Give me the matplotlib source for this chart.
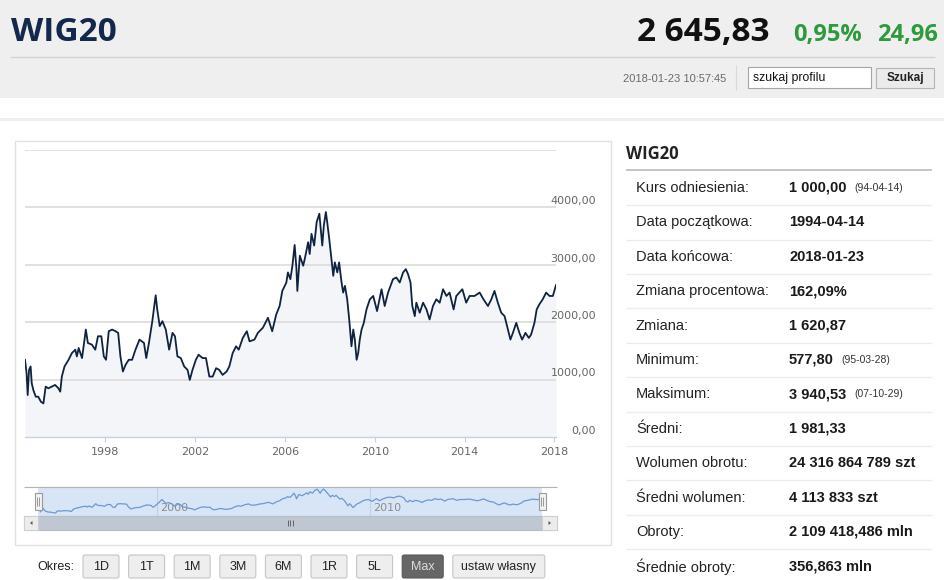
import matplotlib
matplotlib.use("Agg")
import matplotlib.pyplot as plt
from matplotlib.patches import Rectangle, FancyBboxPatch, Polygon

# WIG20 close (decimal years)
years = [
    1994.42, 1994.49, 1994.54, 1994.60, 1994.67, 1994.72, 1994.79, 1994.90, 1995.01, 1995.13,
    1995.24, 1995.34, 1995.46, 1995.61, 1995.76, 1995.91, 1995.99, 1996.06, 1996.18, 1996.36,
    1996.51, 1996.66, 1996.73, 1996.81, 1996.96, 1997.13, 1997.22, 1997.40, 1997.55, 1997.67,
    1997.82, 1997.93, 1998.03, 1998.15, 1998.30, 1998.45, 1998.57, 1998.67, 1998.78, 1998.90,
    1999.04, 1999.19, 1999.34, 1999.52, 1999.72, 1999.82, 1999.94, 2000.09, 2000.24, 2000.31,
    2000.42, 2000.54, 2000.69, 2000.84, 2000.99, 2001.10, 2001.21, 2001.36, 2001.51, 2001.66,
    2001.76, 2001.88, 2002.03, 2002.15, 2002.33, 2002.48, 2002.63, 2002.78, 2002.93, 2003.07,
    2003.22, 2003.40, 2003.52, 2003.67, 2003.82, 2003.94, 2004.12, 2004.30, 2004.42, 2004.64,
    2004.79, 2005.01, 2005.09, 2005.24, 2005.43, 2005.61, 2005.76, 2005.88, 2006.06, 2006.13,
    2006.24, 2006.33, 2006.43, 2006.51, 2006.55, 2006.66, 2006.81, 2006.88, 2007.03, 2007.10,
    2007.18, 2007.30,
    2007.41, 2007.53, 2007.59, 2007.66, 2007.73, 2007.82, 2007.88, 2007.97, 2008.07, 2008.15,
    2008.22, 2008.33, 2008.41, 2008.52, 2008.59, 2008.67, 2008.77, 2008.86, 2008.96, 2009.04,
    2009.11, 2009.19, 2009.26, 2009.33, 2009.41, 2009.51, 2009.63, 2009.78, 2009.93, 2010.10,
    2010.30, 2010.44, 2010.59, 2010.81, 2010.96, 2011.11, 2011.26, 2011.38, 2011.48, 2011.59,
    2011.67, 2011.78, 2011.85, 2012.00, 2012.15, 2012.30, 2012.44, 2012.59, 2012.74, 2012.89,
    2013.04, 2013.19, 2013.33, 2013.51, 2013.63, 2013.90, 2014.07, 2014.22, 2014.44, 2014.67,
    2014.84, 2015.04, 2015.19, 2015.33, 2015.48, 2015.63, 2015.78, 2015.93, 2016.04, 2016.15,
    2016.30, 2016.44, 2016.56, 2016.71, 2016.86, 2016.96, 2017.11, 2017.21, 2017.33, 2017.48,
    2017.63, 2017.78, 2017.93, 2018.07,
]
values = [
    1345, 1112, 731, 1170, 1229, 936, 819, 702, 702, 614,
    585, 878, 848, 878, 907, 848, 790, 1053, 1229, 1345,
    1463, 1521, 1404, 1550, 1375, 1872, 1638, 1609, 1521, 1755,
    1755, 1404, 1345, 1843, 1872, 1843, 1814, 1404, 1141, 1258,
    1345, 1345, 1521, 1697, 1638, 1375, 1638, 2018, 2469, 2223,
    1931, 2018, 1872, 1521, 1814, 1755, 1404, 1375, 1229, 1170,
    995, 1170, 1345, 1433, 1375, 1375, 1053, 1053, 1199, 1170,
    1082, 1141, 1229, 1463, 1580, 1521, 1726, 1843, 1667, 1697,
    1814, 1901, 1960, 2077, 1843, 2135, 2282, 2545, 2691, 2867,
    2750, 2984, 3346, 2925, 2545, 3159, 2984, 3101, 3393, 3188,
    3539, 3335,
    3744, 3890, 3627, 3335, 3686, 3920, 3744, 3452, 3101, 2808,
    3042, 2867, 3042, 2691, 2516, 2633, 2399, 2048, 1580, 1872,
    1697, 1345, 1463, 1697, 1872, 1989, 2223, 2399, 2457, 2194,
    2574, 2282, 2516, 2750, 2779, 2691, 2867, 2925, 2837, 2691,
    2282, 2106, 2340, 2165, 2340, 2223, 2048, 2282, 2399, 2340,
    2574, 2457, 2516, 2223, 2457, 2574, 2340, 2457, 2457, 2516,
    2399, 2282, 2399, 2545, 2340, 2165, 2106, 1872, 1697, 1814,
    1989, 1814, 1697, 1814, 1726, 1784, 1989, 2223, 2311, 2399,
    2516, 2457, 2457, 2645.83,
]

x_ticks = [1998, 2002, 2006, 2010, 2014, 2018]
x_tick_labels = ["1998", "2002", "2006", "2010", "2014", "2018"]
grid_levels = [1000, 2000, 3000, 4000, 5000]
y_labels = [0, 1000, 2000, 3000, 4000]
nav_years = [2000, 2010]

header_name = "WIG20"
last_price = "2 645,83"
change_pct = "0,95%"
change_abs = "24,96"
timestamp = "2018-01-23 10:57:45"

periods = ["1D", "1T", "1M", "3M", "6M", "1R", "5L", "Max", "ustaw własny"]

row_labels = ["Kurs odniesienia:", "Data początkowa:", "Data końcowa:", "Zmiana procentowa:",
              "Zmiana:", "Minimum:", "Maksimum:", "Średni:", "Wolumen obrotu:",
              "Średni wolumen:", "Obroty:", "Średnie obroty:"]
row_values = ["1 000,00", "1994-04-14", "2018-01-23", "162,09%", "1 620,87", "577,80",
              "3 940,53", "1 981,33", "24 316 864 789 szt", "4 113 833 szt",
              "2 109 418,486 mln", "356,863 mln"]
row_notes = ["(94-04-14)", "", "", "", "", "(95-03-28)", "(07-10-29)", "", "", "", "", ""]

OPEN = ["Open Sans", "DejaVu Sans"]
ARIAL = ["Liberation Sans", "DejaVu Sans"]

W, H = 945, 580
fig = plt.figure(figsize=(W / 100, H / 100), dpi=100, facecolor="white")


def px_axes(x0, y0, x1, y1):
    return fig.add_axes([x0 / W, 1 - y1 / H, (x1 - x0) / W, (y1 - y0) / H])


def overlay():
    a = fig.add_axes([0, 0, 1, 1])
    a.set_xlim(0, W)
    a.set_ylim(H, 0)
    a.axis("off")
    a.patch.set_alpha(0)
    return a


def rect(a, x0, y0, x1, y1, fc, ec="none", lw=0.8, z=1):
    a.add_patch(Rectangle((x0, y0), x1 - x0, y1 - y0, facecolor=fc, edgecolor=ec, linewidth=lw, zorder=z))


def line(a, xs, ys, c, lw=0.8, z=2):
    a.plot(xs, ys, color=c, lw=lw, solid_capstyle="butt", zorder=z)


bg = overlay()

# header strip
rect(bg, 0, 0, W, 98, "#efefef")
bg.text(11, 41, header_name, family=OPEN, weight="bold", size=24, color="#14284b", va="baseline")
bg.text(637, 41, last_price, family=OPEN, weight="bold", size=24, color="#111111", va="baseline")
bg.text(793, 41, change_pct, family=OPEN, weight="bold", size=17, color="#2e9a3e", va="baseline")
bg.text(877, 41, change_abs, family=OPEN, weight="bold", size=17, color="#2e9a3e", va="baseline")
line(bg, [10, 935], [57, 57], "#d3d3d3", 1)
bg.text(726, 79, timestamp, family=ARIAL, size=8, color="#6a6a6a", ha="right", va="center")
line(bg, [736, 736], [65, 90], "#d9d9d9")
rect(bg, 748, 67, 871, 88, "white", "#a6a6a6")
bg.text(753, 78, "szukaj profilu", family=ARIAL, size=8.8, color="#111111", va="center")
rect(bg, 876, 68, 934, 88, "#ebebeb", "#b4b4b4")
bg.text(905, 78.5, "Szukaj", family=ARIAL, weight="bold", size=8.5, color="#222222", ha="center", va="center")

# page body frame
rect(bg, 0, 118, W, 121, "#efefef")
rect(bg, 15, 141, 611, 545, "none", "#e1e1e1", 1)

# main chart
ax = px_axes(25, 150, 556, 437)
ax.set_facecolor("white")
ax.fill_between(years, values, 0, color="#f4f5f8", lw=0, zorder=1)
for lv in grid_levels:
    ax.axhline(lv, color="#d9d9d9", lw=1.1, zorder=2)
ax.plot(years, values, color="#0f2341", lw=1.3, zorder=3)
ax.set_xlim(years[0], years[-1])
ax.set_ylim(0, 5000)
for s in ["top", "left", "right"]:
    ax.spines[s].set_visible(False)
ax.spines["bottom"].set_color("#c5d2e2")
ax.spines["bottom"].set_linewidth(1)
ax.set_yticks([])
ax.set_xticks(x_ticks, labels=x_tick_labels)
ax.tick_params(axis="x", length=3.6, width=0.8, color="#c5d2e2", labelcolor="#666666", labelsize=8, pad=3.5)
for v in y_labels:
    ax.annotate(f"{v},00", xy=(1, v), xycoords=("axes fraction", "data"), xytext=(28.8, 4.5),
                textcoords="offset points", ha="right", va="center", fontsize=8, color="#666666",
                annotation_clip=False)

# navigator
nav = px_axes(38, 487, 542, 516)
nav.set_facecolor("#d7e5f6")
for yr in nav_years:
    nav.axvline(yr, color="#c2d2e6", lw=0.8, zorder=1)
    nav.annotate(str(yr), xy=(yr, 0.28), xycoords=("data", "axes fraction"), xytext=(2.5, 0),
                 textcoords="offset points", va="center", fontsize=8, color="#8c8c8c", zorder=1)
nav.plot(years, values, color="#6d99cf", lw=0.9, zorder=3)
nav.set_xlim(years[0], years[-1])
nav.set_ylim(160, 4200)
nav.set_xticks([])
nav.set_yticks([])
for s in nav.spines.values():
    s.set_visible(False)

fg = overlay()
line(fg, [24, 557], [487, 487], "#b3b3b3", 0.8)
# scrollbar
rect(fg, 24, 516, 557, 530, "#eeeeee", "#cfcfcf")
rect(fg, 38, 516, 542, 530, "#bfc8d2", "#b8bec6")
rect(fg, 24, 516, 38, 530, "#ececec", "#cfcfcf")
rect(fg, 542, 516, 557, 530, "#ececec", "#cfcfcf")
fg.add_patch(Polygon([(30, 523), (32.5, 521), (32.5, 525)], closed=True, fc="#555555", ec="none", zorder=3))
fg.add_patch(Polygon([(551, 523), (548.5, 521), (548.5, 525)], closed=True, fc="#555555", ec="none", zorder=3))
for gx in (287.5, 290, 292.5):
    line(fg, [gx, gx], [520, 526], "#555555", 0.6, 3)
# range handles
for hx in (38, 542):
    rect(fg, hx - 3.5, 493, hx + 3.5, 510, "#f2f2f2", "#9a9a9a", 0.8, 4)
    for gx in (hx - 1, hx + 1):
        line(fg, [gx, gx], [497, 506], "#8a8a8a", 0.6, 5)

# period buttons
bg.text(37, 567, "Okres:", family=ARIAL, size=9, color="#222222", va="center")
bx = 83
for p in periods:
    w = 92 if len(p) > 3 else (41 if p == "Max" else 36)
    active = p == "Max"
    bg.add_patch(FancyBboxPatch((bx, 555), w, 23, boxstyle="round,pad=0,rounding_size=2",
                                fc="#666666" if active else "#eeeeee",
                                ec="#585858" if active else "#c6c6c6", lw=0.8, zorder=2))
    bg.text(bx + w / 2, 567, p, family=ARIAL, size=9, color="#dddddd" if active else "#222222",
            ha="center", va="center", zorder=3)
    bx += w + 9.6

# side table
bg.text(626, 159, header_name, family=OPEN, weight="bold", size=12, color="#222222", va="baseline")
line(bg, [626, 932], [170, 170], "#b5b5b5", 1.1)
for i, (lab, val, note) in enumerate(zip(row_labels, row_values, row_notes)):
    ry = 188 + i * 34.4
    bg.text(636, ry, lab, family=ARIAL, size=10.5, color="#222222", va="center")
    t = bg.text(789, ry, val, family=ARIAL, weight="bold", size=10.5, color="#1a1a1a", va="center")
    if note:
        bg.annotate(note, xy=(1, 0.5), xycoords=t, xytext=(5.5, 0), textcoords="offset points",
                    family=ARIAL, size=7.5, color="#333333", va="center")
    if i < len(row_labels) - 1:
        line(bg, [626, 932], [ry + 17.2, ry + 17.2], "#ececec", 1)

fig.savefig("out.png", dpi=100, facecolor="white")
